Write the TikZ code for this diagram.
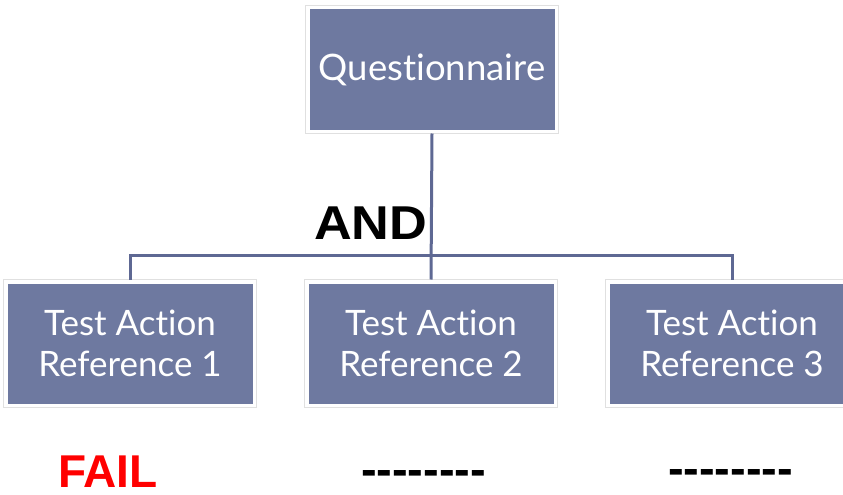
\documentclass[tikz,border=0pt]{standalone}
\usepackage{fontspec}
\setmainfont{Lato}[Ligatures={NoCommon}]
\newfontfamily\boldsans{Liberation Sans}[BoldFont={Liberation Sans Bold}]
\usetikzlibrary{backgrounds}
\definecolor{boxblue}{HTML}{6E79A0}
\definecolor{linkblue}{HTML}{5E6893}
\definecolor{failred}{HTML}{FF0000}
\tikzset{
  orgbox/.style={fill=boxblue, text=white, minimum width=245pt, minimum height=120pt,
    inner sep=0pt, outer sep=4pt, align=center},
  boxframe/.style={fill=white, draw=black!12, line width=0.6pt},
  link/.style={draw=linkblue, line width=3pt},
  marktext/.style={anchor=base west, inner sep=0pt, outer sep=0pt}
}
\begin{document}
\begin{tikzpicture}[x=1pt, y=-1pt]
  \useasboundingbox (0,0) rectangle (843,495);
  \clip (0,0) rectangle (843,495);

  % hierarchy boxes
  \node[orgbox, font=\fontsize{36.5}{44}\selectfont] (q) at (432,69.5) {Questionnaire};
  \node[orgbox, font=\fontsize{35}{41}\selectfont] (t1) at (130,343.5) {Test Action\\Reference 1};
  \node[orgbox, font=\fontsize{35}{41}\selectfont] (t2) at (431,343.5) {Test Action\\Reference 2};
  \node[orgbox, font=\fontsize{35}{41}\selectfont] (t3) at (732,343.5) {Test Action\\Reference 3};

  % white frames behind the boxes
  \begin{pgfonlayer}{background}
    \foreach \n in {q,t1,t2,t3}
      \draw[boxframe] (\n.south west) rectangle (\n.north east);
  \end{pgfonlayer}

  % connectors
  \coordinate (bus) at (0,255);
  \draw[link] (q.south) -- (t2.north);
  \draw[link] (t1.north) -- (t1.north |- bus) -- (t3.north |- bus) -- (t3.north);

  % labels
  \node[marktext, font=\boldsans\bfseries\fontsize{47.5}{50}\selectfont] (and) at (314,239) {\scalebox{1.1}[1]{AND}};
  \node[marktext, text=failred, font=\boldsans\bfseries\fontsize{46}{50}\selectfont] (fail) at (58,487) {FAIL};
  \node[marktext, font=\boldsans\bfseries\fontsize{47}{50}\selectfont] (res2) at (361,485.5) {-{}-{}-{}-{}-{}-{}-{}-};
  \node[marktext, font=\boldsans\bfseries\fontsize{47}{50}\selectfont] (res3) at (668,484) {-{}-{}-{}-{}-{}-{}-{}-};
\end{tikzpicture}
\end{document}
